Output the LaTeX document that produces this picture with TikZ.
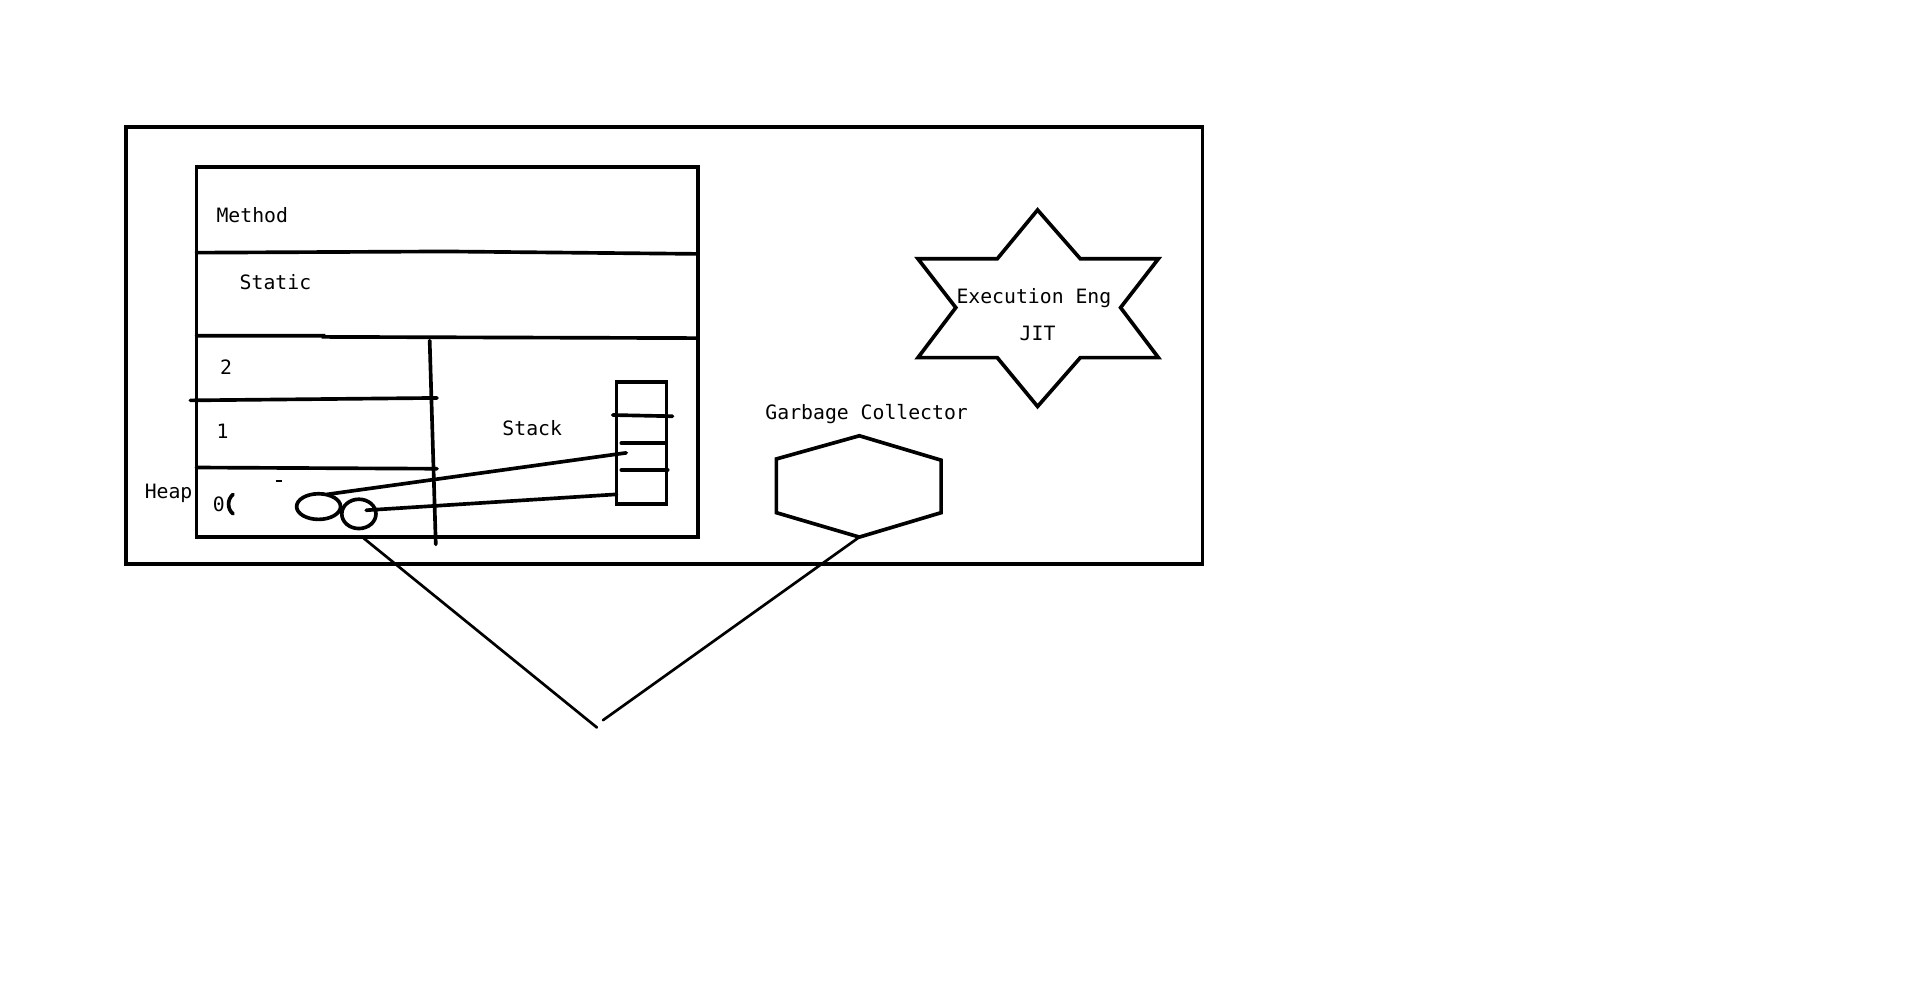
\documentclass[tikz,border=0pt]{standalone}
\usepackage{fontspec}
\usetikzlibrary{shapes.geometric}
\setmonofont{DejaVu Sans Mono}
\begin{document}
\begin{tikzpicture}[x=0.5pt,y=-0.5pt,
  thick line/.style={line width=1.5pt, line cap=round, line join=miter},
  thin line/.style={line width=1.1pt, line cap=round},
  lbl/.style={font=\ttfamily\fontsize{8.1}{10}\selectfont, inner sep=0pt, text=black}]
\useasboundingbox (0,0) rectangle (1568,817);
% outer frame
\draw[thick line] (103,104) rectangle (985,462);
% memory block
\draw[thick line] (161,137) rectangle (572,440);
\draw[thick line] (161,207) -- (365,206) -- (572,208);
\draw[thick line] (161,275) -- (265,275) -- (265,276) -- (572,277);
\draw[thick line] (156,328) -- (358,326);
\draw[thick line] (161,383) -- (358,384);
\draw[thick line] (352,279) -- (357,446);
% texts
\node[lbl, anchor=west] (method) at (177,176) {Method};
\node[lbl, anchor=west] (static) at (196,231) {Static};
\node[lbl, anchor=west] (two) at (180,301) {2};
\node[lbl, anchor=west] (one) at (177,353) {1};
\node[lbl, anchor=west] (zero) at (174,413) {0};
\node[lbl, anchor=east] (heap) at (158,404) {Heap};
\node[lbl] (stack) at (436,351) {Stack};
\draw[thick line] (191,405) .. controls (186,409) and (186,417) .. (191,421);
\draw[line width=0.8pt] (226,394) -- (231,394);
% stack box
\draw[thick line] (505,313) rectangle (546,413);
\draw[thick line] (502,340) -- (551,341);
\draw[thick line] (509,363) -- (545,363);
\draw[thick line] (509,385) -- (547,385);
% objects in heap
\node[draw, line width=1.5pt, ellipse, minimum width=18pt, minimum height=10.5pt, inner sep=0pt] (objA) at (261,415) {};
\node[draw, line width=1.5pt, ellipse, minimum width=14pt, minimum height=12pt, inner sep=0pt] (objB) at (294,421) {};
\coordinate (refA) at (513,371);
\coordinate (refB) at (505,405);
\draw[thick line] (268,405) -- (refA);
\draw[thick line] (300,418) -- (refB);
% execution engine star
\draw[thick line] (850,172) -- (885,212) -- (949,212) -- (918,252) -- (949,293) -- (885,293)
  -- (850,333) -- (817,293) -- (752,293) -- (783,252) -- (752,212) -- (817,212) -- cycle;
\node[lbl] (exec) at (847,244) {Execution Eng};
\node[lbl] (jit) at (850,273) {JIT};
% garbage collector
\draw[thick line] (636,376) -- (704,357) -- (771,377) -- (771,420) -- (704,440) -- (636,420) -- cycle;
\coordinate (gc) at (704,440);
\node[lbl] (gclbl) at (710,339) {Garbage Collector};
% V
\coordinate (heapbot) at (298,441);
\coordinate (vl) at (489,596);
\coordinate (vr) at (494,590);
\draw[thin line] (heapbot) -- (vl);
\draw[thin line] (vr) -- (gc);
\end{tikzpicture}
\end{document}
